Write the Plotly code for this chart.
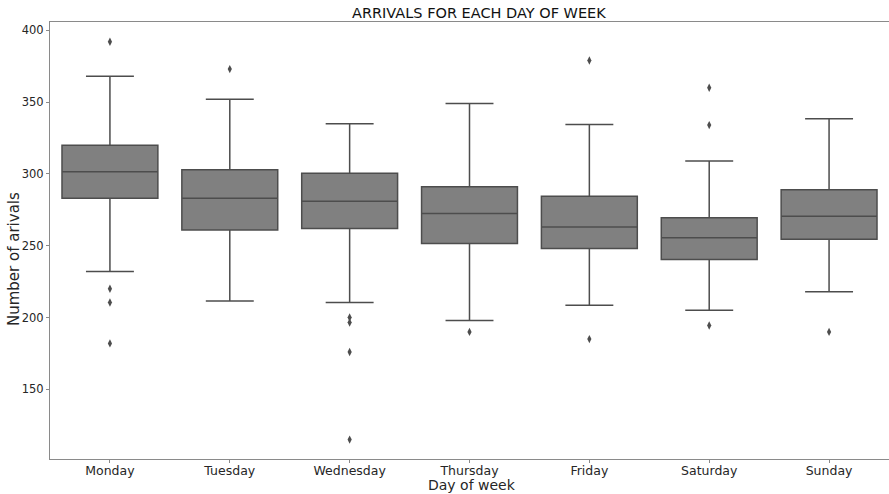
import plotly.graph_objects as go

days = ["Monday", "Tuesday", "Wednesday", "Thursday", "Friday", "Saturday", "Sunday"]
q1 = [283, 261, 262, 251.5, 248, 240.5, 254.5]
medians = [301.5, 283, 281, 272.5, 263, 255.5, 270.5]
q3 = [320, 303, 300.5, 291, 284.5, 269.5, 289]
lower_whisker = [232, 211.5, 210.5, 198, 208.5, 205, 218]
upper_whisker = [368, 352, 335, 349, 334.5, 309, 338.5]

outlier_days = ["Monday", "Monday", "Monday", "Monday",
                "Tuesday",
                "Wednesday", "Wednesday", "Wednesday", "Wednesday",
                "Thursday",
                "Friday", "Friday",
                "Saturday", "Saturday", "Saturday",
                "Sunday"]
outlier_values = [392, 220, 210.5, 182,
                  373,
                  200, 196.5, 176, 115,
                  190,
                  379, 185,
                  360, 334, 194.5,
                  190]

y_ticks = [150, 200, 250, 300, 350, 400]

title_text = "ARRIVALS FOR EACH DAY OF WEEK"
x_title = "Day of week"
y_title = "Number of arivals"

line_col = "#4d4d4d"
fill_col = "#808080"
spine_col = "#8a8a8a"
text_col = "#262626"
font_fam = "DejaVu Sans"

W, H = 889, 494
ML, MR, MT, MB = 50, 0, 22, 35
plot_w = W - ML - MR
plot_h = H - MT - MB


def px_x(px):
    return (px - ML) / plot_w


def px_y(py):
    return (H - MB - py) / plot_h


fig = go.Figure()
fig.add_trace(go.Box(
    x=days, q1=q1, median=medians, q3=q3,
    lowerfence=lower_whisker, upperfence=upper_whisker,
    boxpoints=False, width=0.8, whiskerwidth=0.5,
    fillcolor=fill_col, line=dict(color=line_col, width=1.5),
    showlegend=False,
))
fig.add_trace(go.Scatter(
    x=outlier_days, y=outlier_values, mode="markers",
    marker=dict(symbol="diamond-tall", size=6, color=line_col,
                line=dict(width=0)),
    showlegend=False,
))

fig.update_layout(
    width=W, height=H,
    margin=dict(l=ML, r=MR, t=MT, b=MB),
    plot_bgcolor="white", paper_bgcolor="white",
    font=dict(family=font_fam, color=text_col, size=12),
    xaxis=dict(
        type="category", categoryorder="array", categoryarray=days,
        range=[-0.5, 6.5], showgrid=False, zeroline=False, automargin=False,
        showline=True, linecolor=spine_col, linewidth=1, mirror=True,
        ticks="outside", ticklen=3, tickcolor=spine_col,
        ticklabelstandoff=-3,
        tickfont=dict(size=12.5, color=text_col),
    ),
    yaxis=dict(
        range=[101.5, 405.8], tickvals=y_ticks, showgrid=False, zeroline=False,
        automargin=False,
        showline=True, linecolor=spine_col, linewidth=1, mirror=False,
        ticks="outside", ticklen=3, tickcolor=spine_col,
        tickfont=dict(size=11.5, color=text_col),
    ),
    annotations=[
        dict(text=title_text, xref="paper", yref="paper",
             x=px_x(478.5), y=px_y(13), xanchor="center", yanchor="middle",
             showarrow=False, font=dict(size=14.5, color="#111111")),
        dict(text=x_title, xref="paper", yref="paper",
             x=px_x(472), y=px_y(485), xanchor="center", yanchor="middle",
             showarrow=False, font=dict(size=14, color=text_col)),
        dict(text=y_title, xref="paper", yref="paper", textangle=-90,
             x=px_x(14), y=px_y(259), xanchor="center", yanchor="middle",
             showarrow=False, font=dict(size=15, color=text_col)),
    ],
)

# remove the default 8px page margin so the figure fills the window exactly
fig.write_html("out.html", config={"displayModeBar": False},
               post_script="document.body.style.margin='0';")
